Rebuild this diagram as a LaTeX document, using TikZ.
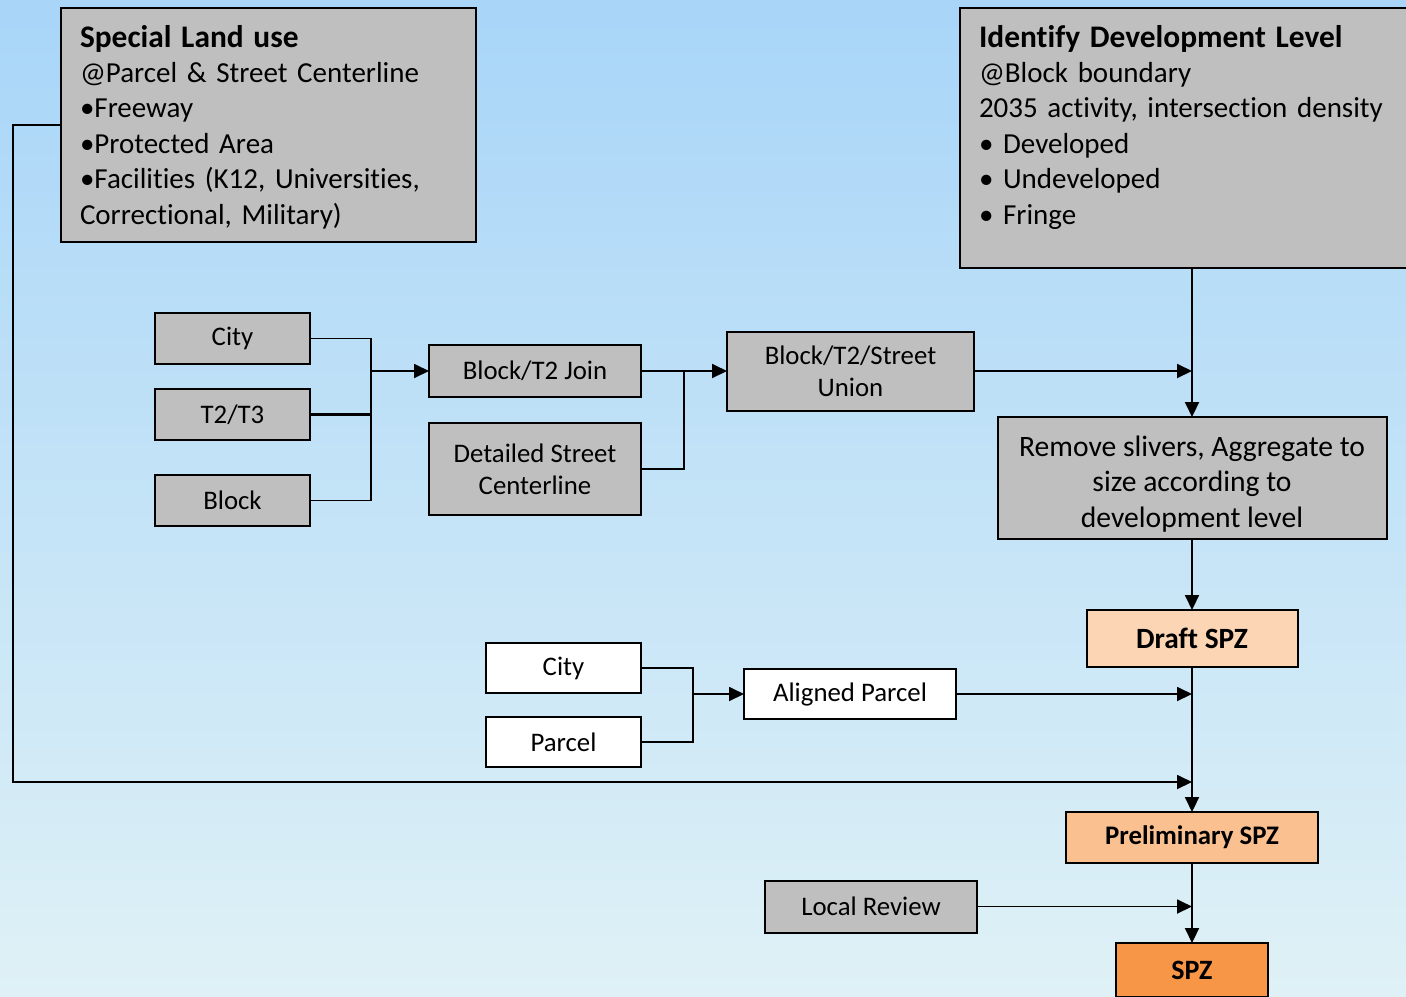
\documentclass[tikz,border=0pt]{standalone}
\usepackage{fontspec}
\setmainfont{Carlito}[Ligatures={NoCommon}]
\usepackage{xcolor}
\usetikzlibrary{arrows.meta, positioning, calc}
\definecolor{boxgray}{RGB}{191,191,191}
\definecolor{skytop}{RGB}{168,213,248}
\definecolor{skybot}{RGB}{223,241,246}
\definecolor{draftfill}{RGB}{252,213,181}
\definecolor{prelimfill}{RGB}{250,192,144}
\definecolor{spzfill}{RGB}{247,150,70}
\newcommand{\titlefont}{\fontsize{15.7}{17.7}\selectfont\bfseries}
\tikzstyle{block} = [rectangle, draw, line width=1pt, fill=boxgray, align=center, inner sep=2pt, outer sep=0pt, font=\fontsize{13.4}{16}\selectfont]
\tikzstyle{note} = [block, align=left, anchor=north west, inner xsep=9.5pt, inner ysep=8.5pt, font=\fontsize{14.5}{17.7}\selectfont]
\tikzstyle{small} = [minimum width=77.5pt, minimum height=25.5pt]
\tikzstyle{wide} = [minimum width=106pt, minimum height=26pt]
\tikzstyle{input} = [block, fill=white]
\tikzstyle{result} = [block, font=\fontsize{13.4}{16}\selectfont\bfseries]
\tikzstyle{wire} = [line width=0.9pt]
\tikzstyle{arrow} = [wire, -{Triangle[length=7.5pt,width=7pt]}]

\begin{document}
\begin{tikzpicture}[x=1pt, y=-1pt]

% Background
\useasboundingbox (0,0) rectangle (703,498);
\shade[top color=skytop, bottom color=skybot] (0,0) rectangle (703,498);

% Top boxes
\node[note, text width=188.5pt, text depth=89pt] (slu) at (30.5,4) {{\titlefont Special Land use}\\@Parcel \& Street Centerline\\•Freeway\\•Protected Area\\•Facilities (K12, Universities,\\Correctional, Military)};
\node[note, text width=213pt, text depth=102pt] (idl) at (480,4) {{\titlefont Identify Development Level}\\@Block boundary\\2035 activity, intersection density\\• Developed\\• Undeveloped\\• Fringe};

% Block inputs
\node[block, small, anchor=north west] (city) at (77.5,156.5) {City};
\node[block, small, below=12.5pt of city] (t2t3) {T2/T3};
\node[block, small, below=17.5pt of t2t3] (blk) {Block};

\node[block, wide, anchor=north west] (join) at (214.5,172.5) {Block/T2 Join};
\node[block, wide, minimum height=46pt, below=13pt of join] (street) {Detailed Street\\Centerline};
\node[block, minimum width=123.5pt, minimum height=39.5pt, right=43pt of join] (union) {Block/T2/Street\\Union};

% Main column
\node[block, minimum width=194.5pt, minimum height=61pt, below=74.5pt of idl, font=\fontsize{14.8}{17.75}\selectfont, text height=49pt, text depth=-1.5pt] (remove) {Remove slivers, Aggregate to\\size according to\\development level};
\node[result, fill=draftfill, minimum width=105.5pt, minimum height=28.5pt, below=35.5pt of remove, font=\fontsize{14.7}{16}\selectfont\bfseries] (draft) {Draft SPZ};
\node[result, fill=prelimfill, minimum width=126pt, minimum height=25.5pt, below=72.5pt of draft] (prelim) {Preliminary SPZ};
\node[result, fill=spzfill, minimum width=76pt, minimum height=27pt, below=40pt of prelim, font=\fontsize{14}{16}\selectfont\bfseries] (spz) {SPZ};

% Parcel inputs
\node[input, small, minimum height=25pt, anchor=north west] (city2) at (243,321.5) {City};
\node[input, small, minimum height=25pt, below=12pt of city2] (parcel) {Parcel};
\node[input, wide, minimum height=25pt, anchor=west] (aligned) at (372,347) {Aligned Parcel};
\node[block, wide, anchor=west] (local) at (382.5,453.25) {Local Review};

% Junctions
\coordinate (j1x) at (185.5,0);
\coordinate (j1) at (j1x |- join.west);
\coordinate (j2x) at (342,0);
\coordinate (j2) at (j2x |- join.east);
\coordinate (j3x) at (346.5,0);
\coordinate (j3) at (j3x |- aligned.west);
\coordinate (mergept) at (596,391);

% Block flow
\draw[wire] (city.east) -| (j1) |- (blk.east);
\draw[wire, line width=1.6pt] (t2t3.east) -- (t2t3.east -| j1);
\draw[arrow] (j1) -- (join.west);
\draw[arrow] (join.east) -- (union.west);
\draw[wire] (street.east) -| (j2);
\draw[arrow] (union.east) -- (union.east -| remove.north);

% Main flow
\draw[arrow] (idl.south) -- (remove.north);
\draw[arrow] (remove) -- (draft);
\draw[arrow] (draft) -- (prelim);
\draw[arrow] (prelim) -- (spz);

% Parcel flow
\draw[wire] (city2.east) -| (j3) |- (parcel.east);
\draw[arrow] (j3) -- (aligned.west);
\draw[arrow] (aligned.east) -- (aligned.east -| draft.south);
\draw[arrow] (local.east) -- (local.east -| prelim.south);

% Special land use loop
\draw[arrow] (slu.west) -- ++(-24,0) |- (mergept);

\end{tikzpicture}
\end{document}
